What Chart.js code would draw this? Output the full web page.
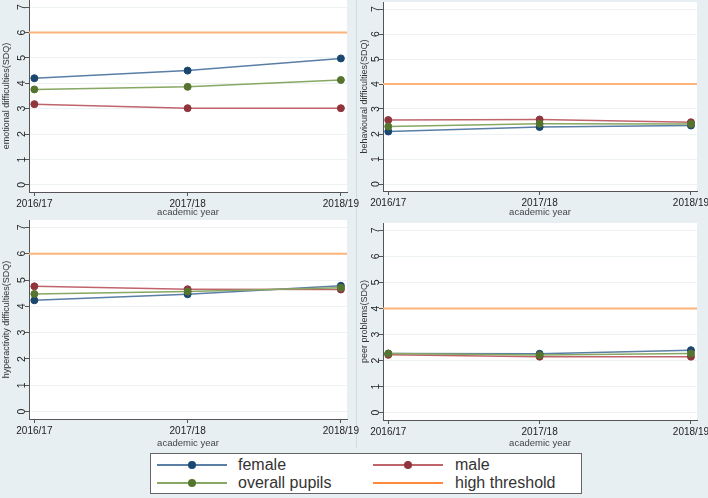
<!DOCTYPE html>
<html>
<head>
<meta charset="utf-8">
<script src="https://cdn.jsdelivr.net/npm/chart.js@4.4.1/dist/chart.umd.min.js"></script>
<style>
  body { margin: 0; width: 708px; height: 498px; background: #e8eff2; position: relative; overflow: hidden;
         font-family: "Liberation Sans", Arial, sans-serif; }
  .panel { position: absolute; }
  #divider { position: absolute; left: 356px; top: 0; width: 1px; height: 448px; background: #d2dbdf; }
  #legend { position: absolute; left: 150px; top: 453px; width: 432px; height: 41px; box-sizing: border-box;
            background: #fff; border: 1.5px solid #666; }
  .key { position: absolute; width: 70px; height: 0; }
  .key .ln { position: absolute; left: 0; width: 70px; top: -0.75px; height: 1.5px; }
  .key .dot { position: absolute; left: 31px; top: -4px; width: 8px; height: 8px; border-radius: 50%; }
  .lbl { position: absolute; font-size: 16px; color: #333; line-height: 16px; }
</style>
</head>
<body>
<div id="divider"></div>
<canvas class="panel" id="c1" width="360" height="218" style="left:0;top:0"></canvas>
<canvas class="panel" id="c2" width="350" height="218" style="left:358px;top:0"></canvas>
<canvas class="panel" id="c3" width="360" height="229" style="left:0;top:220px"></canvas>
<canvas class="panel" id="c4" width="350" height="229" style="left:358px;top:220px"></canvas>

<div id="legend">
  <div class="key" style="left:6px;top:11px"><div class="ln" style="background:#5a7ea5"></div><div class="dot" style="background:#1a476f"></div></div>
  <div class="lbl" style="left:87px;top:3px">female</div>
  <div class="key" style="left:222px;top:11px"><div class="ln" style="background:#c0646c"></div><div class="dot" style="background:#90353b"></div></div>
  <div class="lbl" style="left:304px;top:3px">male</div>
  <div class="key" style="left:6px;top:29px"><div class="ln" style="background:#86a862"></div><div class="dot" style="background:#55752f"></div></div>
  <div class="lbl" style="left:87px;top:21px">overall pupils</div>
  <div class="key" style="left:222px;top:29px"><div class="ln" style="background:#fd8a3a;height:2.5px;top:-1.25px"></div></div>
  <div class="lbl" style="left:304px;top:21px">high threshold</div>
</div>

<script>
const years = ["2016/17", "2017/18", "2018/19"];
const yTicks = [0, 1, 2, 3, 4, 5, 6, 7];

const emotionalFemale = [4.2, 4.5, 4.98];
const emotionalMale = [3.18, 3.02, 3.02];
const emotionalOverall = [3.76, 3.86, 4.13];

const behaviouralFemale = [2.1, 2.28, 2.34];
const behaviouralMale = [2.56, 2.58, 2.47];
const behaviouralOverall = [2.3, 2.41, 2.4];

const hyperFemale = [4.23, 4.46, 4.78];
const hyperMale = [4.76, 4.65, 4.64];
const hyperOverall = [4.47, 4.56, 4.71];

const peerFemale = [2.27, 2.26, 2.4];
const peerMale = [2.22, 2.15, 2.15];
const peerOverall = [2.27, 2.21, 2.27];

const thresholds = [6, 4, 6, 4];

const xMin = -0.035, xMax = 2.04;

// white plot region like stata
const plotBg = {
    id: "plotBg",
    beforeDraw(chart) {
        const a = chart.chartArea;
        chart.ctx.save();
        chart.ctx.fillStyle = "#fff";
        chart.ctx.fillRect(a.left, a.top, a.right - a.left, a.bottom - a.top);
        chart.ctx.restore();
    }
};

function toPoints(vals) {
    return vals.map((v, i) => ({ x: i, y: v }));
}

function series(label, vals, line, mark, order) {
    return {
        label: label,
        data: toPoints(vals),
        borderColor: line,
        borderWidth: 1.5,
        pointBackgroundColor: mark,
        pointBorderColor: mark,
        pointRadius: 3.5,
        pointBorderWidth: 1,
        order: order
    };
}

function makeChart(id, yTitle, female, male, overall, threshold, lay) {
    return new Chart(document.getElementById(id), {
        type: "line",
        data: {
            datasets: [
                series("female", female, "#5a7ea5", "#1a476f", 3),
                series("male", male, "#c0646c", "#90353b", 2),
                series("overall pupils", overall, "#86a862", "#55752f", 1),
                {
                    label: "high threshold",
                    data: [{ x: xMin, y: threshold }, { x: xMax, y: threshold }],
                    borderColor: "#fcb47a",
                    borderWidth: 2,
                    pointRadius: 0,
                    order: 4
                }
            ]
        },
        options: {
            responsive: false,
            animation: false,
            layout: { padding: lay.padding, autoPadding: false },
            plugins: { legend: { display: false }, tooltip: { enabled: false } },
            scales: {
                x: {
                    type: "linear",
                    min: xMin,
                    max: xMax,
                    afterBuildTicks: s => { s.ticks = years.map((y, i) => ({ value: i })); },
                    afterFit: s => { s.height = lay.xHeight; s.paddingLeft = 0; s.paddingRight = 0; },
                    ticks: { callback: v => years[v], font: { size: 10 }, color: "#222", padding: 2,
                             minRotation: 0, maxRotation: 0, autoSkip: false },
                    grid: { drawOnChartArea: false, tickLength: 4, color: "#555" },
                    border: { color: "#555" },
                    title: { display: true, text: "academic year", font: { size: 9.5 }, color: "#444",
                             padding: { top: 0, bottom: 0 } }
                },
                y: {
                    min: -0.28,
                    max: 7.28,
                    afterBuildTicks: s => { s.ticks = yTicks.map(v => ({ value: v })); },
                    afterFit: s => { s.width = lay.yWidth; s.paddingTop = 0; s.paddingBottom = 0; },
                    ticks: { minRotation: 90, maxRotation: 90, crossAlign: "center", padding: 0,
                             font: { size: 10.5 }, color: "#222" },
                    grid: { color: "#edf2f4", tickColor: "#555", tickLength: 4 },
                    border: { color: "#555" },
                    title: { display: true, text: yTitle, font: { size: 9 }, color: "#333",
                             padding: { top: 1, bottom: 0 } }
                }
            }
        },
        plugins: [plotBg]
    });
}

makeChart("c1", "emotional difficulties(SDQ)", emotionalFemale, emotionalMale, emotionalOverall, thresholds[0],
    { padding: { left: 0, right: 13, top: 0, bottom: 0 }, yWidth: 29, xHeight: 26 });
makeChart("c2", "behavioural difficulties(SDQ)", behaviouralFemale, behaviouralMale, behaviouralOverall, thresholds[1],
    { padding: { left: 0, right: 11, top: 2, bottom: 0 }, yWidth: 25, xHeight: 27 });
makeChart("c3", "hyperactivity difficulties(SDQ)", hyperFemale, hyperMale, hyperOverall, thresholds[2],
    { padding: { left: 0, right: 13, top: 0, bottom: 0 }, yWidth: 29, xHeight: 30 });
makeChart("c4", "peer problems(SDQ)", peerFemale, peerMale, peerOverall, thresholds[3],
    { padding: { left: 0, right: 11, top: 3, bottom: 0 }, yWidth: 25, xHeight: 29 });
</script>
</body>
</html>
